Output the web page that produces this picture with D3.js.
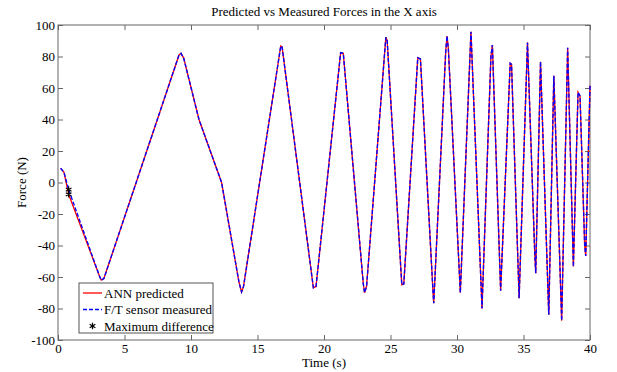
<!DOCTYPE html>
<html>
<head>
<meta charset="utf-8">
<script src="https://cdn.jsdelivr.net/npm/d3@7"></script>
<style>
  body { margin: 0; background: #fff; }
  svg { display: block; font-family: "Liberation Serif", "Times New Roman", serif; }
  .tick line { stroke: #666; }
</style>
</head>
<body>
<div id="chart"></div>
<script>
// time samples (s)
const time = [
  0.2, 0.45, 0.8, 3.1, 3.25, 3.45,
  9.1, 9.25, 9.45, 10.6, 12.3, 13.6, 13.8, 13.95,
  16.75, 16.85, 19.2, 19.4,
  21.25, 21.45, 22.95, 23.05, 23.2,
  24.65, 24.75, 25.85, 26.0,
  27.05, 27.25, 28.2, 28.25,
  29.15, 29.25, 29.35, 30.25,
  31.05, 31.88, 32.55, 32.66, 33.28,
  34.0, 34.1, 34.67, 35.3, 35.85, 35.92,
  36.28, 36.9, 37.28, 37.87, 38.32, 38.75,
  39.1, 39.25, 39.6, 39.68, 40
];

// ANN predicted force (N)
const predicted = [
  9, 6.5, -7.5, -59, -62, -61,
  81, 82, 79, 40, 0, -63, -69.5, -66,
  86.7, 86, -66.8, -66,
  82.4, 82, -64, -70, -66,
  92.2, 90, -65, -64.4,
  79.2, 78.4, -70, -76.7,
  83, 93, 85, -70,
  95.7, -80, 80, 87.3, -68.7,
  75.7, 75, -73.5, 88.8, -46, -57.6,
  76.7, -84, 67.8, -87.7, 85.6, -53.4,
  57.3, 55, -40, -46.7, 61.5
];

// F/T sensor measured force (N)
const measured = [
  9, 6.5, -4.5, -59, -62, -61,
  81, 82, 79, 40, 0, -63, -69.5, -66,
  86.7, 86, -66.8, -66,
  82.4, 82, -64, -70, -66,
  92.2, 90, -65, -64.4,
  79.2, 78.4, -70, -76.7,
  83, 93, 85, -70,
  95.7, -80, 80, 87.3, -68.7,
  75.7, 75, -73.5, 88.8, -46, -57.6,
  76.7, -84, 67.8, -87.7, 85.6, -53.4,
  57.3, 55, -40, -46.7, 61.5
];

// maximum difference markers
const maxDiffTime = [0.8, 0.8];
const maxDiffForce = [-7.5, -4.5];

const xTicks = [0, 5, 10, 15, 20, 25, 30, 35, 40];
const yTicks = [-100, -80, -60, -40, -20, 0, 20, 40, 60, 80, 100];

const legendLabels = ["ANN predicted", "F/T sensor measured", "Maximum difference"];

const W = 617, H = 372;
const margin = { top: 25, right: 27, bottom: 32, left: 58 };
const innerW = W - margin.left - margin.right;
const innerH = H - margin.top - margin.bottom;
const FONT = "Liberation Serif, Times New Roman, serif";

const svg = d3.select("#chart").append("svg")
  .attr("width", W)
  .attr("height", H);

const g = svg.append("g")
  .attr("transform", `translate(${margin.left},${margin.top})`);

const x = d3.scaleLinear().domain([0, 40]).range([0, innerW]);
const y = d3.scaleLinear().domain([-100, 100]).range([innerH, 0]);

const fmt = d => String(d);

// axes, ticks pointing inward
g.append("g")
  .attr("transform", `translate(0,${innerH})`)
  .call(d3.axisBottom(x).tickValues(xTicks).tickFormat(fmt).tickSize(-5).tickSizeOuter(0).tickPadding(4))
  .call(a => a.select(".domain").remove());

g.append("g")
  .call(d3.axisLeft(y).tickValues(yTicks).tickFormat(fmt).tickSize(-5).tickSizeOuter(0).tickPadding(3))
  .call(a => a.select(".domain").remove());

g.append("g")
  .call(d3.axisTop(x).tickValues(xTicks).tickSize(-5).tickSizeOuter(0).tickFormat(""))
  .call(a => a.select(".domain").remove());

g.append("g")
  .attr("transform", `translate(${innerW},0)`)
  .call(d3.axisRight(y).tickValues(yTicks).tickSize(-5).tickSizeOuter(0).tickFormat(""))
  .call(a => a.select(".domain").remove());

g.selectAll(".tick text")
  .attr("font-family", FONT)
  .attr("font-size", 13)
  .attr("fill", "#000");

g.append("rect")
  .attr("width", innerW)
  .attr("height", innerH)
  .attr("fill", "none")
  .attr("stroke", "#666")
  .attr("stroke-width", 1);

// lines
const line = d3.line()
  .x((d, i) => x(time[i]))
  .y(d => y(d));

g.append("path")
  .datum(predicted)
  .attr("fill", "none")
  .attr("stroke", "#ff0000")
  .attr("stroke-width", 1.3)
  .attr("d", line);

g.append("path")
  .datum(measured)
  .attr("fill", "none")
  .attr("stroke", "#0000ff")
  .attr("stroke-width", 1.4)
  .attr("stroke-dasharray", "4,2")
  .attr("d", line);

const star = d3.symbol().type(d3.symbolAsterisk).size(30);

g.selectAll(".maxdiff")
  .data(maxDiffTime)
  .join("path")
    .attr("class", "maxdiff")
    .attr("transform", (d, i) => `translate(${x(d)},${y(maxDiffForce[i])})`)
    .attr("d", star)
    .attr("fill", "none")
    .attr("stroke", "#000")
    .attr("stroke-width", 1.2);

// title and labels
svg.append("text")
  .attr("x", margin.left + innerW / 2)
  .attr("y", 16)
  .attr("text-anchor", "middle")
  .attr("font-family", FONT)
  .attr("font-size", 13)
  .text("Predicted vs Measured Forces in the X axis");

svg.append("text")
  .attr("x", margin.left + innerW / 2)
  .attr("y", 367)
  .attr("text-anchor", "middle")
  .attr("font-family", FONT)
  .attr("font-size", 13)
  .text("Time (s)");

svg.append("text")
  .attr("transform", `translate(26,${margin.top + innerH / 2}) rotate(-90)`)
  .attr("text-anchor", "middle")
  .attr("font-family", FONT)
  .attr("font-size", 13)
  .text("Force (N)");

// legend
const lg = svg.append("g").attr("transform", "translate(79,283)");

lg.append("rect")
  .attr("width", 134)
  .attr("height", 50)
  .attr("fill", "#fff")
  .attr("stroke", "#555");

const rowY = [10, 26.5, 43];

lg.append("line")
  .attr("x1", 4).attr("x2", 23)
  .attr("y1", rowY[0]).attr("y2", rowY[0])
  .attr("stroke", "#ff0000").attr("stroke-width", 1.3);

lg.append("line")
  .attr("x1", 4).attr("x2", 23)
  .attr("y1", rowY[1]).attr("y2", rowY[1])
  .attr("stroke", "#0000ff").attr("stroke-width", 1.4)
  .attr("stroke-dasharray", "4,2");

lg.append("path")
  .attr("transform", `translate(13.5,${rowY[2]})`)
  .attr("d", star)
  .attr("fill", "none")
  .attr("stroke", "#000")
  .attr("stroke-width", 1.2);

lg.selectAll(".lbl")
  .data(legendLabels)
  .join("text")
    .attr("class", "lbl")
    .attr("x", 25)
    .attr("y", (d, i) => rowY[i])
    .attr("dy", "0.35em")
    .attr("font-family", FONT)
    .attr("font-size", 13)
    .text(d => d);
</script>
</body>
</html>
